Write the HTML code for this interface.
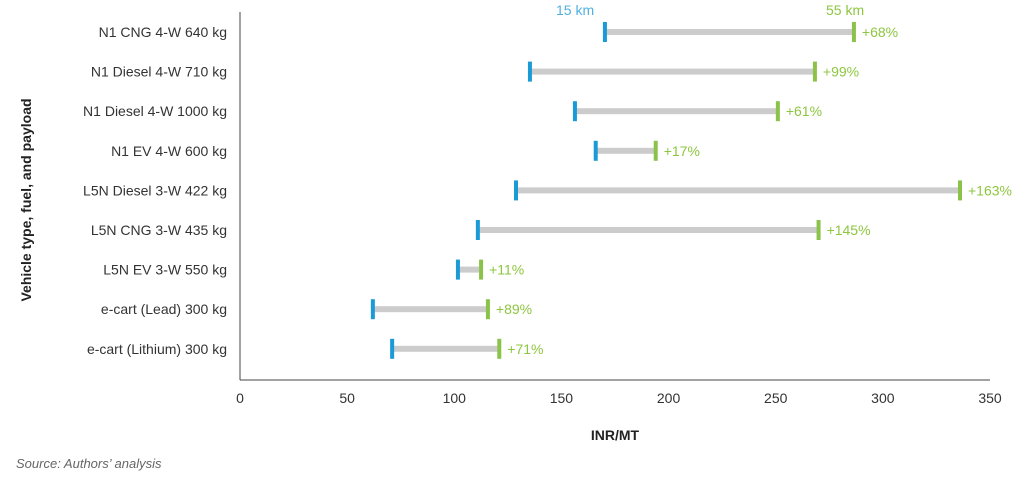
<!DOCTYPE html>
<html><head><meta charset="utf-8"><style>
body{margin:0;background:#fff;width:1032px;height:480px;overflow:hidden;font-family:"Liberation Sans",sans-serif}
svg text{font-family:"Liberation Sans",sans-serif}
</style></head><body>
<svg id="chart" width="1032" height="480" xmlns="http://www.w3.org/2000/svg">
<g id="axes"></g><g id="marks"></g>
<text transform="translate(31,200) rotate(-90)" text-anchor="middle" font-size="14" font-weight="bold" fill="#222">Vehicle type, fuel, and payload</text>
<text x="615" y="440" text-anchor="middle" font-size="14" font-weight="bold" fill="#222">INR/MT</text>
<text x="16" y="468" font-size="13" font-style="italic" fill="#666" font-family="Liberation Serif">Source: Authors’ analysis</text>
<text x="556" y="15" font-size="14" fill="#4fb0e0">15 km</text>
<text x="826" y="15" font-size="14" fill="#8dc63f">55 km</text>
</svg>
<script>
const categories=["N1 CNG 4-W 640 kg","N1 Diesel 4-W 710 kg","N1 Diesel 4-W 1000 kg","N1 EV 4-W 600 kg","L5N Diesel 3-W 422 kg","L5N CNG 3-W 435 kg","L5N EV 3-W 550 kg","e-cart (Lead) 300 kg","e-cart (Lithium) 300 kg"];
const cost15=[170.3,135.3,156.3,166,128.8,111,101.7,62,71];
const cost55=[286.5,268.3,251,194,336,270,112.5,115.7,121];
const pctLabels=["+68%","+99%","+61%","+17%","+163%","+145%","+11%","+89%","+71%"];
const xTicks=[0,50,100,150,200,250,300,350];
const NS="http://www.w3.org/2000/svg";
const x=v=>240+v*750/350;
const y=i=>32+i*39.6;
function mk(tag,attrs,parent,txt){const e=document.createElementNS(NS,tag);for(const k in attrs)e.setAttribute(k,attrs[k]);if(txt!=null)e.textContent=txt;parent.appendChild(e);return e;}
const ax=document.getElementById('axes'),mg=document.getElementById('marks');
let l=mk('line',{x1:240,y1:12,x2:240,y2:380,stroke:'#444','stroke-width':1},ax);


l=mk('line',{x1:240,y1:380,x2:990,y2:380,stroke:'#444','stroke-width':1},ax);


xTicks.forEach(t=>{
 const tx=mk('text',{x:x(t),y:403,'text-anchor':'middle','font-size':14,fill:'#333'},ax,t);
 
 
});
categories.forEach((c,i)=>{
 const cy=y(i);
 const lab=mk('text',{x:227,y:cy+5,'text-anchor':'end','font-size':14,fill:'#333'},ax,c);
 
 
 const bar=mk('rect',{x:x(cost15[i]),y:cy-3,width:x(cost55[i])-x(cost15[i]),height:6,fill:'#cccccc'},mg);
 
 
 const b=mk('rect',{x:x(cost15[i])-2,y:cy-10,width:4,height:20,fill:'#1a9ad6'},mg);
 
 
 const g=mk('rect',{x:x(cost55[i])-2,y:cy-10,width:4,height:20,fill:'#8bc34a'},mg);
 
 
 const p=mk('text',{x:x(cost55[i])+8,y:cy+5,'font-size':14,fill:'#8dc63f'},mg,pctLabels[i]);
 
 
});
</script>
</body></html>
